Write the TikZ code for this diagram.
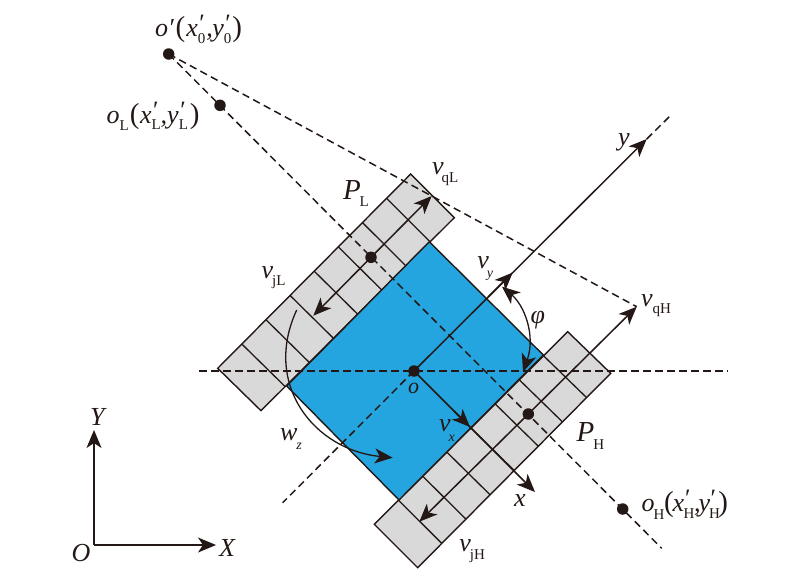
\documentclass[tikz,border=0pt]{standalone}
\usepackage{fontspec}
\setmainfont{Liberation Serif}
\usetikzlibrary{calc,arrows.meta}
\definecolor{ink}{HTML}{231815}
\definecolor{bluefill}{HTML}{25A5E0}
\definecolor{greyfill}{HTML}{D9D9D9}
\newcommand{\dnr}[1]{\raisebox{-7.5pt}{\fontsize{15}{15}\selectfont\upshape #1}}
\newcommand{\dni}[1]{\raisebox{-9.5pt}{\fontsize{14}{14}\selectfont\itshape #1}}
\newcommand{\pr}[1]{\makebox[0pt][l]{\raisebox{5pt}{\hspace{1.5pt}\upshape\fontsize{25}{25}\selectfont′}}\raisebox{-6.5pt}{\fontsize{15}{15}\selectfont\upshape #1}}
\newcommand{\lp}{{\upshape\fontsize{29}{29}\selectfont(}}
\newcommand{\rp}{{\upshape\fontsize{29}{29}\selectfont)}}
\tikzset{
  lab/.style={inner sep=0pt,outer sep=0pt,anchor=base west,text=ink,font=\fontsize{26}{26}\selectfont\itshape},
  bigp/.style={lab,font=\fontsize{29}{29}\selectfont\itshape},
  thin line/.style={draw=ink,line width=1.3pt},
  solidline/.style={draw=ink,line width=1.5pt},
  dashline/.style={draw=ink,line width=1.5pt,dash pattern=on 7.5pt off 4.5pt},
  tip/.style={-{Stealth[length=18pt,width=15pt,inset=5pt]}},
  bothtip/.style={{Stealth[length=18pt,width=15pt,inset=5pt]}-{Stealth[length=18pt,width=15pt,inset=5pt]}},
  dot/.style={circle,fill=ink,inner sep=0pt,minimum size=11.5pt},
  panel/.style={fill=greyfill,draw=ink,line width=1.4pt,line join=miter},
}
\begin{document}
\begin{tikzpicture}[x=1pt,y=-1pt]
\useasboundingbox (0,0) rectangle (800,571);
% panel L
\coordinate (LT) at (410.7,174);
\coordinate (LR) at (454.3,217.7);
\coordinate (LL) at (217.7,368.3);
\coordinate (LB) at (261,410.7);
% panel H
\coordinate (HT) at (567.7,331.7);
\coordinate (HR) at (610.7,373.3);
\coordinate (HL) at (374.3,524.3);
\coordinate (HB) at (417.7,567.7);
% body
\coordinate (BT) at (429.3,241.7);
\coordinate (BL) at (286.7,386);
\coordinate (BB) at (399,500);
\coordinate (BR) at (543.3,355);
\path[panel] (LT)--(LR)--(LB)--(LL)--cycle;
\path[panel] (HT)--(HR)--(HB)--(HL)--cycle;
\path[fill=bluefill,draw=ink,line width=1.4pt] (BT)--(BR)--(BB)--(BL)--cycle;
\foreach \i in {1,...,7}{
  \draw[thin line] ($(LT)!\i/8!(LL)$) -- ($(LR)!\i/8!(LB)$);
  \draw[thin line] ($(HT)!\i/8!(HL)$) -- ($(HR)!\i/8!(HB)$);
}
% named points
\node[dot] (o) at (414,371) {};
\node[dot] (op) at (168.7,54) {};
\node[dot] (oL) at (220,105.3) {};
\node[dot] (oLc) at (371,257.3) {};
\node[dot] (oHc) at (528.3,414) {};
\node[dot] (oH) at (622.7,509) {};
\coordinate (hA) at (199,371);
\coordinate (hB) at (728,371);
\coordinate (yTip) at (646.7,139);
\coordinate (yEnd) at (670,116);
\coordinate (yLow) at (282.7,502.7);
\coordinate (vyTip) at ($(o.center)!0.4241!(yTip)$);
\coordinate (vyTail) at ($(o.center)!0.32!(yTip)$);
\coordinate (xTip) at (535,492);
\coordinate (vxTip) at ($(o.center)!0.4628!(xTip)$);
\coordinate (vxTail) at ($(o.center)!0.33!(xTip)$);
\coordinate (qL) at (431.7,196);
\coordinate (jL) at (313.3,315.7);
\coordinate (qH) at (636.7,306.7);
\coordinate (jH) at (419.3,521.7);
\coordinate (end) at (661.7,548.3);
\coordinate (O) at (94,545);
\coordinate (Yt) at (94,430);
\coordinate (Xt) at (216,545);
\coordinate (phiA) at (502,286.7);
\coordinate (phiB) at (523,372);
\coordinate (wA) at (296.7,310);
\coordinate (wB) at (392.7,457.7);
% dashed
\draw[dashline] (hA) -- (hB);
\draw[dashline] (o.center) -- (yLow);
\draw[dashline] (yTip) -- (yEnd);
\draw[dashline] (op.center) -- (qH);
\draw[dashline] (op.center) -- (end);
% solid
\draw[solidline,tip] (o.center) -- (yTip);
\draw[solidline,tip] (vyTail) -- (vyTip);
\draw[solidline,tip] (o.center) -- (xTip);
\draw[solidline,tip] (vxTail) -- (vxTip);
\draw[solidline,tip] (oLc.center) -- (qL);
\draw[solidline,tip] (oLc.center) -- (jL);
\draw[solidline,tip] (oHc.center) -- (qH);
\draw[solidline,tip] (oHc.center) -- (jH);
\draw[solidline,tip] (O) -- (Yt);
\draw[solidline,tip] (O) -- (Xt);
\draw[thin line,bothtip] (phiA) .. controls (524,305) and (536,335) .. (phiB);
\draw[thin line,tip] (wA) .. controls (262,385) and (315,450) .. (wB);
% labels
\node[lab] (t1) at (155,36.7) {o′\hspace{2pt}\lp\hspace{1pt}x\pr{0}\hspace{1pt},\hspace{-.5pt}y\pr{0}\hspace{1pt}\rp};
\node[lab] (t2) at (106.7,123.3) {o\dnr{L}\hspace{1pt}\lp\hspace{.5pt}x\pr{L},y\pr{L}\hspace{2pt}\rp};
\node[bigp] (t3) at (343,199.3) {P\hspace{-1pt}\dnr{L}};
\node[lab] (t4) at (432,174.5) {v\hspace{-2pt}\dnr{qL}};
\node[lab] (t5) at (261.7,278) {v\hspace{-1pt}\dnr{jL}};
\node[lab] (t6) at (477.3,268) {v\hspace{-2pt}\dni{y}};
\node[lab] (t7) at (530.7,323) {φ};
\node[lab] (t8) at (618,145) {y};
\node[lab] (t9) at (641,306) {v\dnr{qH}};
\node[lab,font=\fontsize{22}{22}\selectfont\itshape] (t10) at (408,393.3) {o};
\node[lab] (t11) at (439,431.7) {v\hspace{-2pt}\dni{x}};
\node[lab] (t12) at (514,506.7) {x};
\node[bigp] (t13) at (576.7,441.7) {P\hspace{-1pt}\dnr{H}};
\node[lab] (t14) at (641.7,511.7) {o\hspace{-1pt}\dnr{H}\hspace{-.5pt}\lp\hspace{-1pt}x\hspace{-.5pt}\pr{H}\hspace{-.5pt},\hspace{-2pt}y\hspace{-1pt}\pr{H}\hspace{-1.5pt}\rp};
\node[lab] (t15) at (459.3,551.7) {v\hspace{-1pt}\dnr{jH}};
\node[lab] (t16) at (280,440) {w\hspace{-1pt}\dni{z}};
\node[lab] (t17) at (90,425) {Y};
\node[lab] (t18) at (219,556.7) {X};
\node[lab] (t19) at (71.7,561.7) {O};
\end{tikzpicture}
\end{document}
